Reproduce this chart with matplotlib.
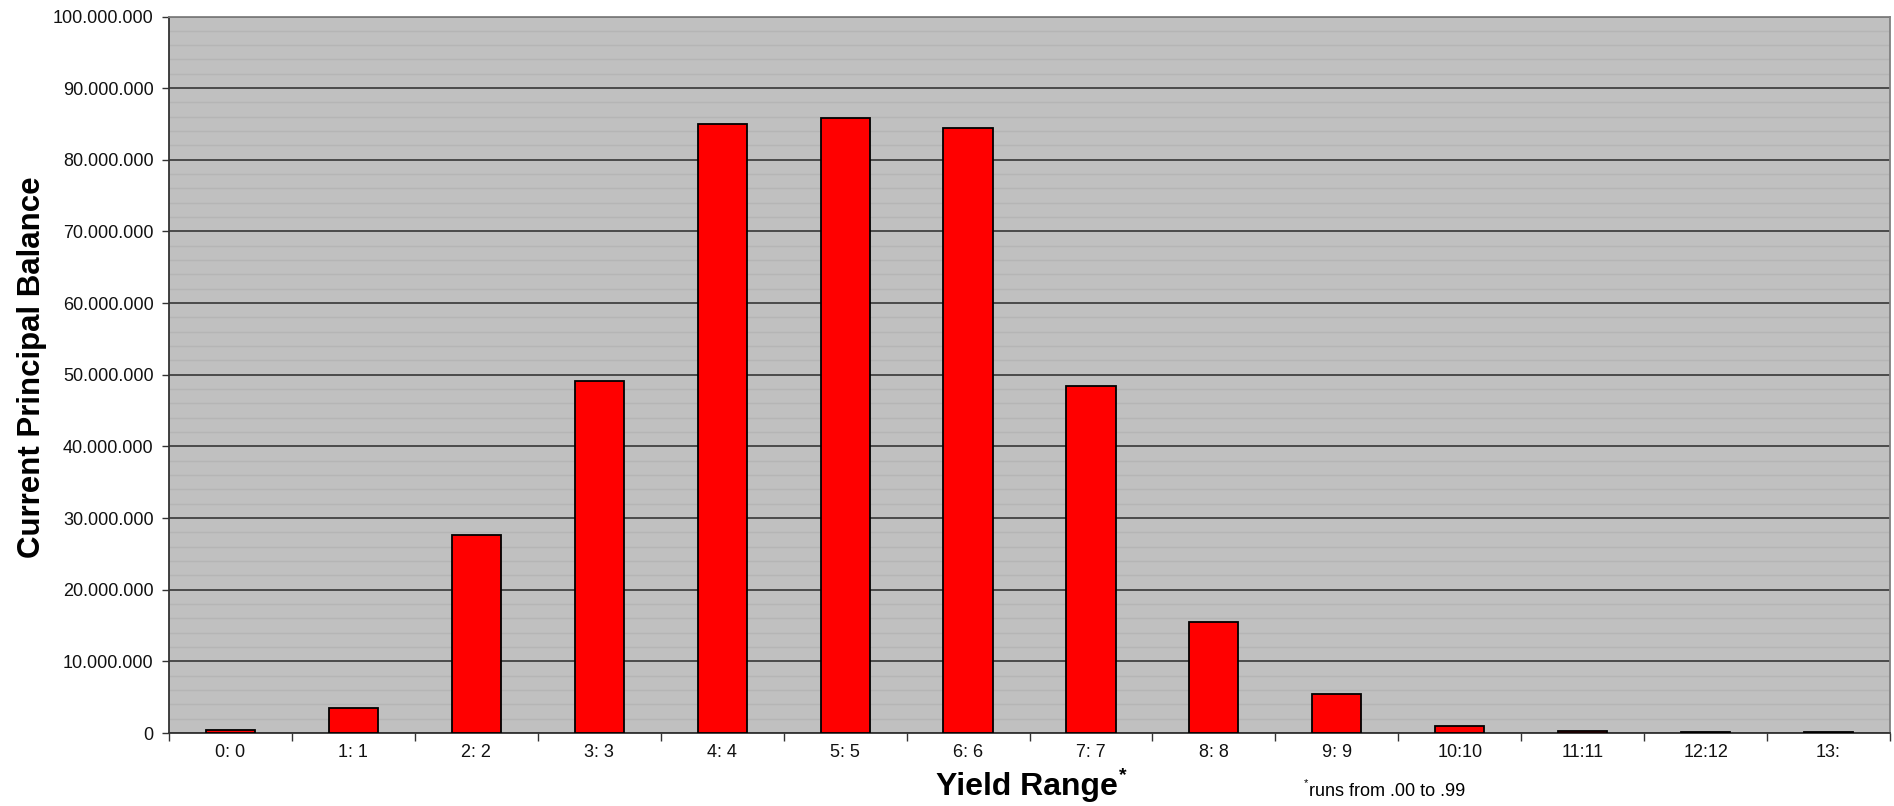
import matplotlib
matplotlib.use("Agg")
import matplotlib.pyplot as plt
from matplotlib.ticker import FuncFormatter, MultipleLocator, FixedLocator, NullFormatter

plt.rcParams['font.family'] = ['Liberation Sans', 'DejaVu Sans']

# Yield range buckets and current principal balance per bucket
categories = ["0: 0", "1: 1", "2: 2", "3: 3", "4: 4", "5: 5", "6: 6",
              "7: 7", "8: 8", "9: 9", "10:10", "11:11", "12:12", "13:"]
balances = [350_000, 3_450_000, 27_700_000, 49_100_000, 85_000_000,
            85_900_000, 84_400_000, 48_400_000, 15_500_000, 5_400_000,
            1_000_000, 250_000, 100_000, 80_000]
y_ticks = [0, 10_000_000, 20_000_000, 30_000_000, 40_000_000, 50_000_000,
           60_000_000, 70_000_000, 80_000_000, 90_000_000, 100_000_000]

W, H = 1894, 806
fig = plt.figure(figsize=(W / 100, H / 100), dpi=100)
ax = fig.add_axes([169 / W, 1 - 733 / H, (1890 - 169) / W, (733 - 16.5) / H])
ax.set_facecolor("#C0C0C0")

x = list(range(len(categories)))
ax.bar(x, balances, width=0.4, color="#FF0000", edgecolor="black",
       linewidth=1.3, zorder=3)

ax.set_xlim(-0.5, len(categories) - 0.5)
ax.set_ylim(0, 100_000_000)

# y axis: major ticks every 10M with dotted thousands separators
ax.yaxis.set_major_locator(FixedLocator(y_ticks))
ax.yaxis.set_major_formatter(FuncFormatter(lambda v, p: f"{int(v):,}".replace(",", ".")))
ax.yaxis.set_minor_locator(MultipleLocator(2_000_000))
ax.tick_params(axis="y", which="major", direction="out", length=5, width=1,
               color="#333333", labelsize=13, pad=6, labelcolor="#111111")
ax.tick_params(axis="y", which="minor", length=0)

ax.grid(axis="y", which="major", color="#2a2a2a", linewidth=1.1, zorder=1)
ax.grid(axis="y", which="minor", color="#b5b5b5", linewidth=1.0, zorder=0.5)
ax.set_axisbelow(True)

# x axis: ticks at bucket boundaries, labels at bucket centres
bounds = [i - 0.5 for i in range(len(categories) + 1)]
ax.xaxis.set_major_locator(FixedLocator(bounds))
ax.xaxis.set_major_formatter(NullFormatter())
ax.xaxis.set_minor_locator(FixedLocator(x))
ax.set_xticklabels(categories, minor=True)
ax.tick_params(axis="x", which="major", direction="out", length=6, width=1,
               color="#333333")
ax.tick_params(axis="x", which="minor", length=0, labelsize=13, pad=8,
               labelcolor="#111111")

for side in ("left", "bottom"):
    ax.spines[side].set_color("#333333")
    ax.spines[side].set_linewidth(1.3)
for side in ("top", "right"):
    ax.spines[side].set_color("#808080")
    ax.spines[side].set_linewidth(1.3)

# axis titles
fig.text(32 / W, 1 - 367.5 / H, "Current Principal Balance", rotation=90,
         ha="center", va="center", fontsize=22.5, fontweight="bold")
fig.text(1118 / W, 1 - 787 / H, "Yield Range", ha="right", va="center",
         fontsize=23, fontweight="bold")
fig.text(1119 / W, 1 - 776 / H, "*", ha="left", va="center",
         fontsize=14, fontweight="bold")

# footnote
fig.text(1304 / W, 1 - 783 / H, "*", ha="left", va="center", fontsize=8)
fig.text(1309 / W, 1 - 792 / H, "runs from .00 to .99", ha="left", va="center",
         fontsize=13, family=["Liberation Sans Narrow", "Liberation Sans"])

fig.savefig("out.png", dpi=100, facecolor="white")
